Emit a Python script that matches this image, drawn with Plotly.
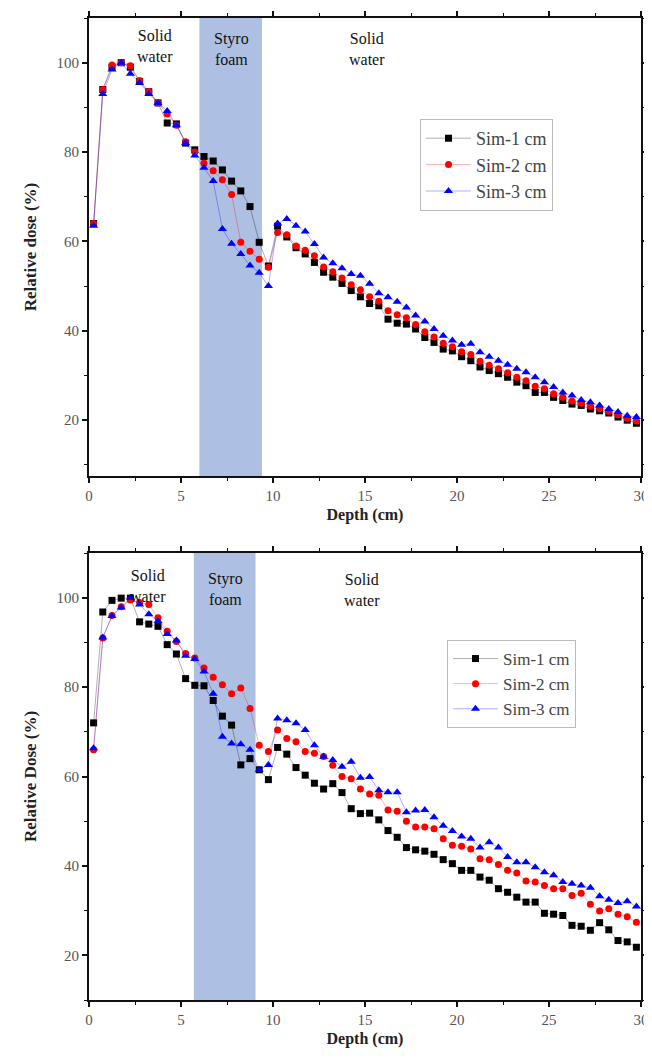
import plotly.graph_objects as go

# ---------------- data ----------------
depth = [0.25, 0.75, 1.25, 1.75, 2.25, 2.75, 3.25, 3.75, 4.25, 4.75,
         5.25, 5.75, 6.25, 6.75, 7.25, 7.75, 8.25, 8.75, 9.25, 9.75,
         10.25, 10.75, 11.25, 11.75, 12.25, 12.75, 13.25, 13.75, 14.25, 14.75,
         15.25, 15.75, 16.25, 16.75, 17.25, 17.75, 18.25, 18.75, 19.25, 19.75,
         20.25, 20.75, 21.25, 21.75, 22.25, 22.75, 23.25, 23.75, 24.25, 24.75,
         25.25, 25.75, 26.25, 26.75, 27.25, 27.75, 28.25, 28.75, 29.25, 29.75]

series_names = ["Sim-1 cm", "Sim-2 cm", "Sim-3 cm"]

top_sim1 = [64, 94, 99, 100, 99, 95.8, 93.5, 91, 86.5, 86.3,
            82, 80.5, 79, 78, 76, 73.5, 71.3, 67.8, 59.8, 54.5,
            63.4, 61, 58.6, 57.2, 55.3, 53.1, 52, 50.6, 49, 47.6,
            46.1, 45.6, 42.6, 41.7, 41.5, 40.4, 38.5, 37.4, 35.9, 35.5,
            34.2, 33.3, 31.9, 31.1, 30.4, 29.6, 28.5, 27.7, 26.2, 26.2,
            25.1, 24.4, 23.6, 23.3, 22.5, 22.1, 21.6, 20.7, 20, 19.3]
top_sim2 = [64, 94, 99.5, 100, 99.3, 96, 93.5, 91, 88.5, 86,
            82.3, 80, 77.5, 75.8, 73.8, 70.5, 59.8, 57.8, 56, 54.2,
            62, 61.5, 59, 58, 56.8, 54.3, 53.2, 51.8, 50.3, 49.2,
            47.6, 46.6, 44.5, 43.6, 42.9, 41.4, 39.8, 38.6, 37.2, 36.4,
            35.3, 34.7, 33.2, 32.3, 31.5, 30.6, 29.6, 28.8, 27.6, 27,
            25.9, 25.1, 24.3, 23.8, 23.1, 22.6, 22, 21.2, 20.4, 19.8]
top_sim3 = [63.5, 93, 98.5, 100, 97.5, 95.5, 93, 91, 89.2, 86,
            82, 79.2, 76.5, 73.5, 62.8, 59.5, 57.2, 54.6, 53, 50,
            64, 65, 63.5, 62.2, 59.4, 56.4, 55.1, 54, 52.7, 52.3,
            50.5, 48.4, 47.5, 46.5, 45.2, 43.4, 42.1, 40.4, 38.9, 37.8,
            36.9, 37.1, 35.2, 34.2, 33.3, 32.4, 31.5, 30.7, 29.6, 28.5,
            27.4, 26.2, 25.5, 24.5, 24, 23.3, 22.5, 21.8, 21, 20.7]

bot_sim1 = [72, 96.8, 99.4, 99.9, 99.9, 94.6, 94.1, 93.6, 89.5, 87.4,
            81.9, 80.4, 80.3, 77, 73.5, 71.5, 62.6, 64, 61.5, 59.3,
            66.5, 65, 62, 60.3, 58.5, 57.2, 58.4, 56.4, 52.8, 51.7,
            51.8, 50.3, 47.9, 46.4, 44.1, 43.6, 43.3, 42.6, 41.4, 40.5,
            39, 39, 37.5, 36.8, 34.9, 34.1, 33, 31.9, 31.9, 29.4,
            29.2, 28.9, 26.7, 26.5, 25.6, 27.3, 25.7, 23.3, 23, 21.8]
bot_sim2 = [66, 91, 96, 98, 99.5, 98.9, 98.5, 95.5, 92.5, 90.2,
            87.5, 86.5, 84.3, 82.2, 80.5, 78.5, 79.8, 75.2, 67, 65.6,
            70.4, 68.5, 67.8, 65.6, 65.2, 64.5, 62.5, 60, 59.5, 57.2,
            56.1, 55.8, 52.5, 52.2, 50, 48.7, 48.7, 48.3, 46.1, 44.6,
            44.4, 43.8, 41.6, 41.4, 40.3, 39, 38.4, 36.6, 36.4, 35.6,
            34.9, 34.9, 33.4, 33.9, 31.4, 29.9, 30.4, 29.2, 28.6, 27.4]
bot_sim3 = [66.3, 91.1, 95.9, 97.8, 100, 98.5, 96.3, 94.8, 91.9, 90.4,
            87, 86.3, 83.5, 78.5, 68.9, 67.4, 67.2, 66, 61.5, 62.6,
            73, 72.6, 71.9, 70.4, 67, 64.4, 63.7, 62.2, 63.3, 59.7,
            59.9, 56.9, 56.5, 56.5, 52, 52.4, 52.5, 50.9, 49, 47.8,
            46.6, 46.1, 44.1, 45.3, 44.1, 42, 40.8, 40.8, 39.7, 38.6,
            37.9, 36.4, 36, 35.6, 35.1, 33.2, 32.4, 31.7, 32.1, 30.9]

top_band = [6.0, 9.4]
bot_band = [5.7, 9.05]

# ---------------- styling ----------------
W, H = 652, 1061
OFF = 8  # page body margin offset in the browser

def px_x(x):
    return (x - OFF) / W

def px_y(y):
    return 1 - (y - OFF) / H

colors = ["#000000", "#ff0000", "#0000ff"]
line_colors = ["rgba(0,0,0,0.45)", "rgba(255,0,0,0.45)", "rgba(0,0,255,0.45)"]
symbols = ["square", "circle", "triangle-up"]
msizes = [7, 7, 8]
serif = "Liberation Serif, Times New Roman, serif"

fig = go.Figure()

def add_panel(ys, xa, ya, leg):
    for i, y in enumerate(ys):
        fig.add_trace(go.Scatter(
            x=depth, y=y, name=series_names[i], mode="lines+markers",
            xaxis=xa, yaxis=ya, legend=leg,
            line=dict(color=line_colors[i], width=0.7),
            marker=dict(symbol=symbols[i], size=msizes[i], color=colors[i],
                        line=dict(width=0)),
        ))

add_panel([top_sim1, top_sim2, top_sim3], "x", "y", "legend")
add_panel([bot_sim1, bot_sim2, bot_sim3], "x2", "y2", "legend2")

xdom = [px_x(89), px_x(641)]
ydom_top = [px_y(476), px_y(18)]
ydom_bot = [px_y(1000), px_y(553)]

def xaxis_cfg(anchor):
    return dict(domain=xdom, anchor=anchor, range=[0, 30], dtick=5,
                automargin=False,
                showline=True, linewidth=2, linecolor="#111", mirror="ticks",
                ticks="outside", ticklen=5, tickwidth=1.5, tickcolor="#111",
                minor=dict(dtick=2.5, ticks="outside", ticklen=3, tickwidth=1.2,
                           tickcolor="#111"),
                showgrid=False, zeroline=False,
                tickfont=dict(family=serif, size=15, color="#555"),
                title=dict(text="<b>Depth (cm)</b>", standoff=6,
                           font=dict(family=serif, size=16, color="#222")))

def yaxis_cfg(anchor, dom, rng, title):
    return dict(domain=dom, anchor=anchor, range=rng, tick0=0, dtick=20,
                automargin=False,
                showline=True, linewidth=2, linecolor="#111", mirror="ticks",
                ticks="outside", ticklen=5, tickwidth=1.5, tickcolor="#111",
                minor=dict(dtick=10, ticks="outside", ticklen=3, tickwidth=1.2,
                           tickcolor="#111"),
                showgrid=False, zeroline=False,
                tickfont=dict(family=serif, size=15, color="#555"),
                title=dict(text="<b>" + title + "</b>", standoff=16,
                           font=dict(family=serif, size=17, color="#222")))

fig.update_layout(
    width=W, height=H,
    margin=dict(l=0, r=0, t=0, b=0),
    paper_bgcolor="white", plot_bgcolor="white",
    xaxis=xaxis_cfg("y"),
    yaxis=yaxis_cfg("x", ydom_top, [7.5, 110], "Relative dose (%)"),
    xaxis2=xaxis_cfg("y2"),
    yaxis2=yaxis_cfg("x2", ydom_bot, [10, 110], "Relative Dose (%)"),
    legend=dict(x=px_x(420), y=px_y(119), xanchor="left", yanchor="top",
                bordercolor="#bbb", borderwidth=1, bgcolor="white",
                font=dict(family=serif, size=18, color="#444"),
                itemwidth=45, tracegroupgap=0),
    legend2=dict(x=px_x(447), y=px_y(640), xanchor="left", yanchor="top",
                 bordercolor="#bbb", borderwidth=1, bgcolor="white",
                 font=dict(family=serif, size=17, color="#444"),
                 itemwidth=45, tracegroupgap=0),
    showlegend=True,
)

band_color = "#adc0e3"
fig.add_shape(type="rect", xref="x", yref="y domain", x0=top_band[0], x1=top_band[1],
              y0=0, y1=1, fillcolor=band_color, line=dict(width=0), layer="below")
fig.add_shape(type="rect", xref="x2", yref="y2 domain", x0=bot_band[0], x1=bot_band[1],
              y0=0, y1=1, fillcolor=band_color, line=dict(width=0), layer="below")

def label(text, xpx, ypx):
    fig.add_annotation(text=text, xref="paper", yref="paper",
                       x=px_x(xpx), y=px_y(ypx), xanchor="center", yanchor="middle",
                       showarrow=False, align="center",
                       font=dict(family=serif, size=16, color="#111"))

label("Solid<br>water", 155, 46)
label("Styro<br>foam", 231, 49)
label("Solid<br>water", 367, 49)
label("Solid<br>water", 148, 586)
label("Styro<br>foam", 225, 589)
label("Solid<br>water", 362, 590)

fig.write_html("out.html")
